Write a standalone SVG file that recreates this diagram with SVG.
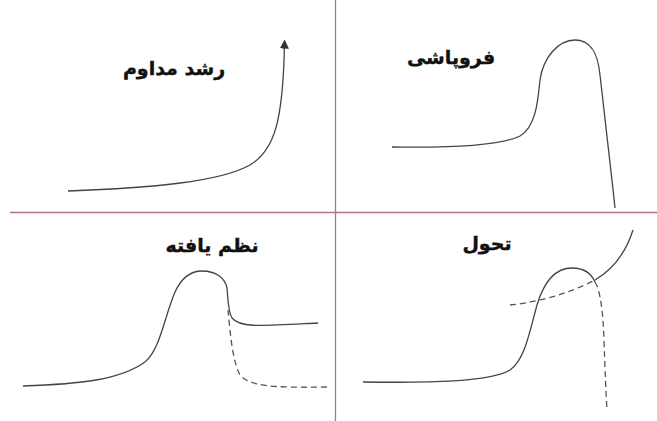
<svg xmlns="http://www.w3.org/2000/svg" width="657" height="421" viewBox="0 0 657 421">
<defs>
<style>
.axis{stroke:#b5737d;stroke-width:1.3;fill:none}
.c{stroke:#444;stroke-width:1.3;fill:none}
.d{stroke:#555;stroke-width:1.3;fill:none;stroke-dasharray:6 4}
.t{font-family:"DejaVu Sans","Liberation Sans",sans-serif;font-weight:bold;font-size:19px;fill:#111;text-anchor:middle;stroke:#111;stroke-width:0.4}
</style>
<marker id="arr" viewBox="0 0 10 10" refX="5" refY="5" markerWidth="7" markerHeight="7" orient="auto">
<path d="M0,0 L10,5 L0,10 Z" fill="#333"/>
</marker>
</defs>
<rect width="657" height="421" fill="#fff"/>
<g id="axes">
<line class="axis" x1="335.5" y1="0" x2="335.5" y2="421"/>
<line class="axis" x1="10" y1="212.5" x2="657" y2="212.5"/>
</g>
<g id="connectors">
<g id="growth">
<path class="c" d="M68,191 C150,188 220,182 250,165 C275,150 283,120 284.5,44" marker-end="url(#arr)"/>
</g>
<g id="collapse">
<path class="c" d="M392,147 C450,148 500,146 520,136 C536,127 538,100 540,80 C543,58 558,40 575,40 C592,40 598,55 600,75 C604,110 610,160 615,208"/>
</g>
<g id="order">
<path class="c" d="M23,386 C80,384 120,380 145,362 C160,350 165,315 175,292 C182,277 192,271 202,271 C216,271 225,278 227,288 C228,298 228,312 232,318 C240,328 260,326 318,323"/>
<path class="d" d="M228,310 C230,330 232,360 240,375 C250,386 270,388 328,387"/>
</g>
<g id="transformation">
<path class="c" d="M363,382 C430,383 490,382 510,370 C525,360 530,330 537,305 C543,285 553,268 572,268 C585,268 592,275 595,282"/>
<path class="d" d="M595,282 C600,290 603,310 604,340 C605,370 606,395 607,410"/>
<path class="d" d="M510,305 C540,302 570,293 595,280"/>
<path class="c" d="M595,280 C612,270 625,255 633,230"/>
</g>
</g>
<g id="label-growth"><text class="t" x="174" y="75" direction="rtl">رشد مداوم</text></g>
<g id="label-collapse"><text class="t" x="451" y="64" direction="rtl">فروپاشی</text></g>
<g id="label-order"><text class="t" x="212" y="252" direction="rtl">نظم یافته</text></g>
<g id="label-transformation"><text class="t" x="487" y="250" direction="rtl">تحول</text></g>
</svg>
